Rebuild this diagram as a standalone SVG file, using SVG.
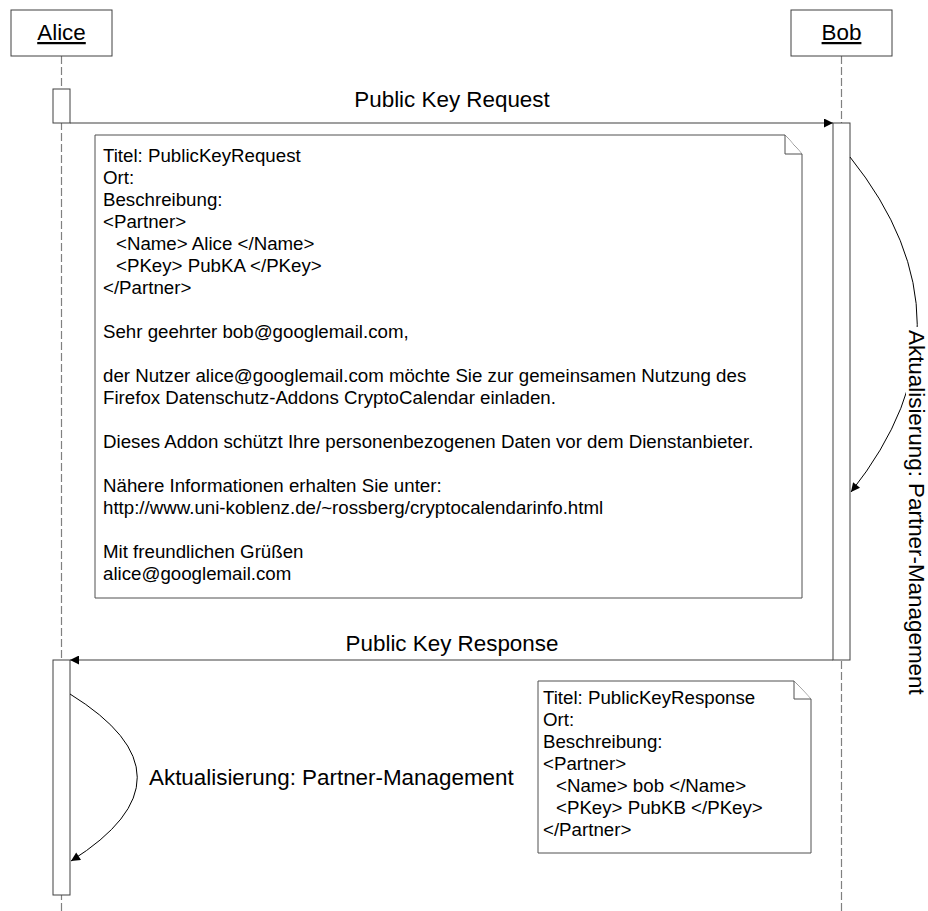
<svg xmlns="http://www.w3.org/2000/svg" width="928" height="911" viewBox="0 0 928 911">
<style>
text{font-family:"Liberation Sans",Arial,sans-serif;fill:#000}
.nt{font-size:18.7px}
.lb{font-size:22.4px}
.box{fill:#fff;stroke:#404040;stroke-width:1}
.life{stroke:#808080;stroke-width:1.2;stroke-dasharray:8 3;fill:none}
.msg{stroke:#404040;stroke-width:1.2;fill:none}
.note{fill:#fff;stroke:#505050;stroke-width:1}
</style>
<defs>
<marker id="ah" viewBox="0 0 10 10" refX="10" refY="5" markerWidth="10" markerHeight="9" markerUnits="userSpaceOnUse" orient="auto">
<path d="M0,0 L10,5 L0,10 Z" fill="#000"/>
</marker>
</defs>
<rect width="928" height="911" fill="#fff"/>

<g id="lifelines">
<line class="life" x1="61.5" y1="56" x2="61.5" y2="911"/>
<line class="life" x1="841.5" y1="56" x2="841.5" y2="911"/>
</g>

<g id="alice">
<rect class="box" x="11" y="10" width="101" height="46"/>
<text class="lb" x="61.5" y="40" text-anchor="middle" text-decoration="underline">Alice</text>
</g>
<g id="bob">
<rect class="box" x="791" y="10" width="101" height="46"/>
<text class="lb" x="841.5" y="40" text-anchor="middle" text-decoration="underline">Bob</text>
</g>

<g id="alice-activation-1"><rect class="box" x="53" y="89" width="17" height="34"/></g>
<g id="bob-activation"><rect class="box" x="833" y="123" width="17" height="537"/></g>
<g id="alice-activation-2"><rect class="box" x="53" y="660" width="17" height="235"/></g>

<g id="connectors">
<line class="msg" x1="70" y1="123" x2="833" y2="123" marker-end="url(#ah)"/>
<text class="lb" x="452" y="107" text-anchor="middle">Public Key Request</text>
<line class="msg" x1="833" y1="660" x2="70" y2="660" marker-end="url(#ah)"/>
<text class="lb" x="452" y="651" text-anchor="middle">Public Key Response</text>
<path d="M850,157 Q984,324.5 851,492" fill="none" stroke="#000" stroke-width="1" marker-end="url(#ah)"/>
<rect x="906" y="327" width="22" height="370" fill="#fff"/>
<text class="lb" transform="translate(909,330) rotate(90)" x="0" y="0">Aktualisierung: Partner-Management</text>
<path d="M70,694 Q204,777 71,861" fill="none" stroke="#000" stroke-width="1" marker-end="url(#ah)"/>
<text class="lb" x="149" y="785">Aktualisierung: Partner-Management</text>
</g>

<g id="note-request">
<path class="note" d="M95,135 H785 L802,154 V598 H95 Z"/>
<path class="note" d="M785,135 V154 H802"/>
<text class="nt" x="103" y="162">Titel: PublicKeyRequest</text>
<text class="nt" x="103" y="184">Ort:</text>
<text class="nt" x="103" y="206">Beschreibung:</text>
<text class="nt" x="103" y="228">&lt;Partner&gt;</text>
<text class="nt" x="116" y="250">&lt;Name&gt; Alice &lt;/Name&gt;</text>
<text class="nt" x="116" y="272">&lt;PKey&gt; PubKA &lt;/PKey&gt;</text>
<text class="nt" x="103" y="294">&lt;/Partner&gt;</text>
<text class="nt" x="103" y="338">Sehr geehrter bob@googlemail.com,</text>
<text class="nt" x="103" y="382">der Nutzer alice@googlemail.com möchte Sie zur gemeinsamen Nutzung des</text>
<text class="nt" x="103" y="404">Firefox Datenschutz-Addons CryptoCalendar einladen.</text>
<text class="nt" x="103" y="448">Dieses Addon schützt Ihre personenbezogenen Daten vor dem Dienstanbieter.</text>
<text class="nt" x="103" y="492">Nähere Informationen erhalten Sie unter:</text>
<text class="nt" x="103" y="514">http://www.uni-koblenz.de/~rossberg/cryptocalendarinfo.html</text>
<text class="nt" x="103" y="558">Mit freundlichen Grüßen</text>
<text class="nt" x="103" y="580">alice@googlemail.com</text>
</g>

<g id="note-response">
<path class="note" d="M538,681 H794 L811,699 V853 H538 Z"/>
<path class="note" d="M794,681 V699 H811"/>
<text class="nt" x="543" y="704">Titel: PublicKeyResponse</text>
<text class="nt" x="543" y="726">Ort:</text>
<text class="nt" x="543" y="748">Beschreibung:</text>
<text class="nt" x="543" y="770">&lt;Partner&gt;</text>
<text class="nt" x="556" y="792">&lt;Name&gt; bob &lt;/Name&gt;</text>
<text class="nt" x="556" y="814">&lt;PKey&gt; PubKB &lt;/PKey&gt;</text>
<text class="nt" x="543" y="836">&lt;/Partner&gt;</text>
</g>
</svg>
